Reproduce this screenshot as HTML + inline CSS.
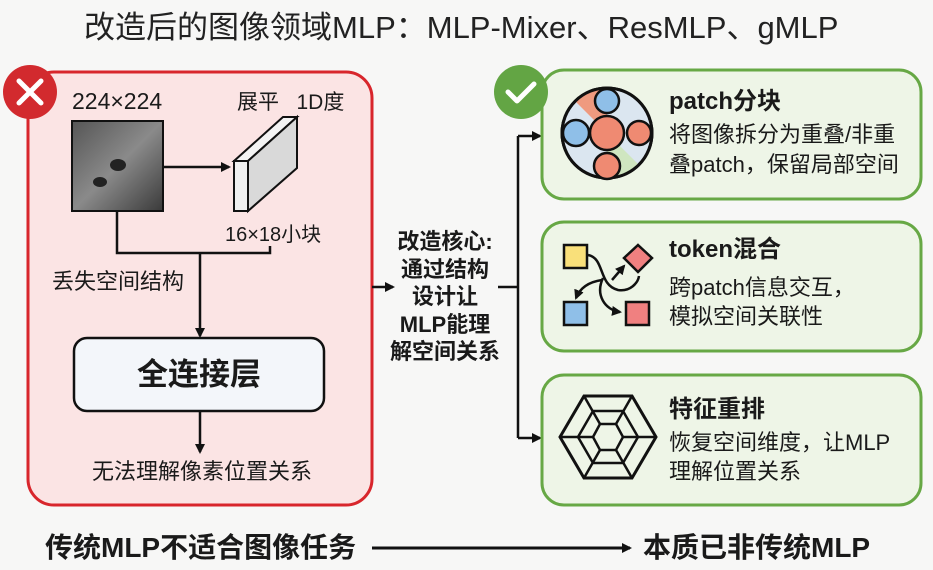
<!DOCTYPE html>
<html><head><meta charset="utf-8"><style>
body{margin:0;width:933px;height:570px;background:#f7f7f6;position:relative;overflow:hidden;font-family:"Liberation Sans","Noto Sans CJK SC",sans-serif;color:#1a1a1a}
.t{position:absolute;white-space:nowrap;line-height:1}
.b{font-weight:bold}
</style></head><body>
<svg width="933" height="570" style="position:absolute;left:0;top:0">
<defs>
<marker id="a" markerWidth="10" markerHeight="10" refX="8" refY="5" orient="auto" markerUnits="userSpaceOnUse"><path d="M0,0 L10,5 L0,10 Z" fill="#111"/></marker>
<linearGradient id="img" x1="0" y1="0" x2="1" y2="1"><stop offset="0" stop-color="#555"/><stop offset="0.5" stop-color="#8a8a8a"/><stop offset="1" stop-color="#3a3a3a"/></linearGradient>
</defs>
<rect x="28" y="72" width="344" height="433" rx="26" fill="#fbe4e4" stroke="#d8262c" stroke-width="3"/>
<circle cx="30" cy="92" r="27" fill="#d22a2e"/>
<path d="M19,81 L41,103 M41,81 L19,103" stroke="#fff" stroke-width="5" stroke-linecap="round"/>
<rect x="72" y="121" width="91" height="90" fill="url(#img)" stroke="#111" stroke-width="2"/>
<ellipse cx="118" cy="165" rx="8" ry="6" fill="#222"/><ellipse cx="100" cy="182" rx="7" ry="5" fill="#222"/>
<line x1="163" y1="167" x2="229" y2="167" stroke="#111" stroke-width="2.5" marker-end="url(#a)"/>
<polygon points="234,161 248,161 297,117 283,117" fill="#f4f4f4" stroke="#111" stroke-width="2"/>
<polygon points="248,161 297,117 297,168 248,211" fill="#d9d9d9" stroke="#111" stroke-width="2"/>
<rect x="234" y="161" width="14" height="50" fill="#efefef" stroke="#111" stroke-width="2"/>
<polyline points="117,211 117,253 270,253 270,246" fill="none" stroke="#111" stroke-width="2.5"/>
<line x1="200" y1="253" x2="200" y2="336" stroke="#111" stroke-width="2.5" marker-end="url(#a)"/>
<rect x="74" y="338" width="250" height="73" rx="13" fill="#f3f6fa" stroke="#111" stroke-width="2.5"/>
<line x1="200" y1="411" x2="200" y2="452" stroke="#111" stroke-width="2.5" marker-end="url(#a)"/>
<line x1="372" y1="287" x2="393" y2="287" stroke="#111" stroke-width="2.5" marker-end="url(#a)"/>
<line x1="498" y1="287" x2="518" y2="287" stroke="#111" stroke-width="2.5"/>
<line x1="518" y1="136" x2="518" y2="438" stroke="#111" stroke-width="2.5"/>
<line x1="518" y1="136" x2="540" y2="136" stroke="#111" stroke-width="2.5" marker-end="url(#a)"/>
<line x1="518" y1="438" x2="540" y2="438" stroke="#111" stroke-width="2.5" marker-end="url(#a)"/>
<g fill="#eef5e7" stroke="#67a845" stroke-width="3">
<rect x="542" y="70" width="379" height="129" rx="22"/>
<rect x="542" y="222" width="379" height="129" rx="22"/>
<rect x="542" y="375" width="379" height="130" rx="22"/>
</g>
<circle cx="521" cy="92" r="27" fill="#63a544"/>
<path d="M508,92 L517,101 L534,84" fill="none" stroke="#fff" stroke-width="5" stroke-linecap="round" stroke-linejoin="round"/>
<circle cx="607" cy="133" r="45" fill="#dbe6f0" stroke="#111" stroke-width="3"/>
<path d="M575,101 A45,45 0 0,1 607,88 L607,133 Z" fill="#ef9a7f"/>
<path d="M639,165 A45,45 0 0,1 607,178 L607,133 Z" fill="#cfe6c0"/>
<circle cx="607" cy="133" r="45" fill="none" stroke="#111" stroke-width="3"/>
<g stroke="#111" stroke-width="2.5">
<circle cx="607" cy="133" r="17" fill="#ef8a72"/>
<circle cx="607" cy="101" r="12" fill="#8fbfe8"/>
<circle cx="576" cy="133" r="13" fill="#8fbfe8"/>
<circle cx="639" cy="133" r="12" fill="#ef8a72"/>
<circle cx="607" cy="166" r="13" fill="#ef8a72"/>
</g>
<g stroke="#111" stroke-width="2.5">
<rect x="564" y="245" width="23" height="23" fill="#f9e07a"/>
<polygon points="638,245 652,258 638,272 624,258" fill="#f08080"/>
<rect x="564" y="302" width="23" height="23" fill="#8fbfe8"/>
<rect x="626" y="302" width="23" height="23" fill="#f08080"/>
<path d="M588,255 C605,258 598,285 618,290 C630,292 638,283 639,276" fill="none"/>
<path d="M612,280 L624,266" fill="none" marker-end="url(#a)"/>
<path d="M602,280 C588,282 580,288 576,298" fill="none" marker-end="url(#a)"/>
<path d="M603,278 C595,295 605,310 620,312" fill="none" marker-end="url(#a)"/>
</g>
<g fill="none" stroke="#111" stroke-width="3">
<polygon points="560,437 584,396 632,396 656,437 632,478 584,478"/>
<polygon points="578,437 593,411 623,411 638,437 623,463 593,463" stroke-width="2.5"/>
<polygon points="593,437 600,424 616,424 623,437 616,450 600,450" stroke-width="2.5"/>
<path d="M560,437 L593,437 M656,437 L623,437 M584,396 L600,424 M632,396 L616,424 M584,478 L600,450 M632,478 L616,450" stroke-width="2.5"/>
</g>
<line x1="372" y1="548" x2="630" y2="548" stroke="#111" stroke-width="3" marker-end="url(#a)"/>
</svg>
<div class="t" style="left:84px;top:12px;font-size:31px;color:#222">改造后的图像领域MLP：MLP-Mixer、ResMLP、gMLP</div>
<div class="t" style="left:72px;top:90px;font-size:23px">224×224</div>
<div class="t" style="left:237px;top:92px;font-size:21px">展平&nbsp;&nbsp;&nbsp;1D度</div>
<div class="t" style="left:225px;top:225px;font-size:20px">16×18小块</div>
<div class="t" style="left:52px;top:271px;font-size:22px">丢失空间结构</div>
<div class="t b" style="left:74px;top:359px;width:250px;text-align:center;font-size:31px">全连接层</div>
<div class="t" style="left:92px;top:461px;font-size:22px">无法理解像素位置关系</div>
<div class="t b" style="left:383px;top:228px;width:124px;text-align:center;font-size:22px;line-height:27.5px;white-space:normal">改造核心:<br>通过结构<br>设计让<br>MLP能理<br>解空间关系</div>
<div class="t b" style="left:669px;top:90px;font-size:24px">patch分块</div>
<div class="t" style="left:669px;top:120px;font-size:22px;line-height:30px">将图像拆分为重叠/非重<br>叠patch，保留局部空间</div>
<div class="t b" style="left:669px;top:238px;font-size:24px">token混合</div>
<div class="t" style="left:669px;top:273px;font-size:22px;line-height:29px">跨patch信息交互，<br>模拟空间关联性</div>
<div class="t b" style="left:669px;top:398px;font-size:24px">特征重排</div>
<div class="t" style="left:669px;top:428px;font-size:22px;line-height:29px">恢复空间维度，让MLP<br>理解位置关系</div>
<div class="t b" style="left:45px;top:534px;font-size:28px">传统MLP不适合图像任务</div>
<div class="t b" style="left:643px;top:534px;font-size:28px">本质已非传统MLP</div>
</body></html>
